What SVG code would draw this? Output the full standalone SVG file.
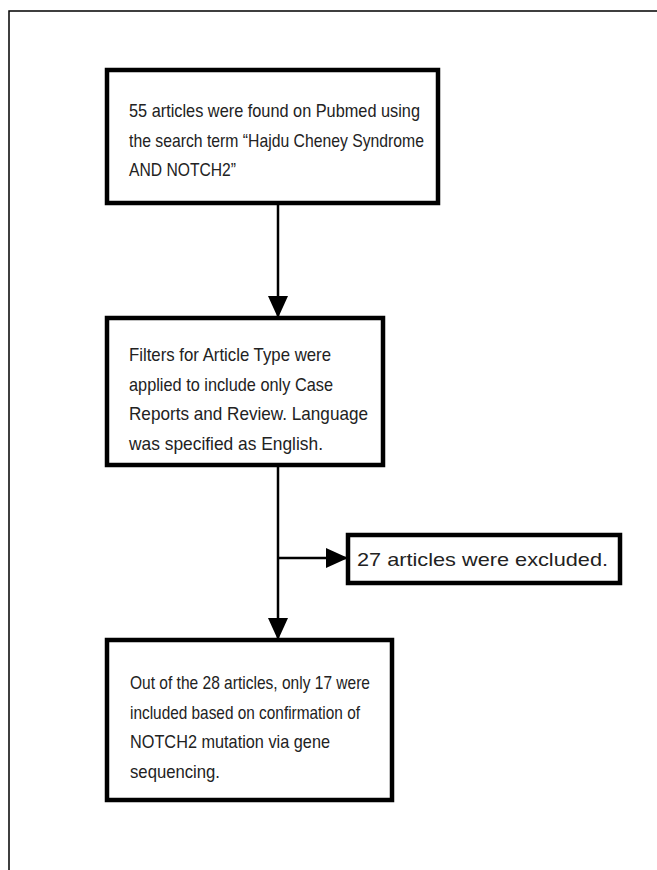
<svg xmlns="http://www.w3.org/2000/svg" width="657" height="870" viewBox="0 0 657 870">
<defs>
<style>
.frame{fill:none;stroke:#000;stroke-width:1.5}
.box{fill:#fff;stroke:#000;stroke-width:4.5}
.ln{fill:none;stroke:#000;stroke-width:2.5}
.t{font-family:"Liberation Sans",Arial,sans-serif;font-size:19px;fill:#222}
</style>
<marker id="ah2" viewBox="0 0 22 20" refX="22" refY="10" markerWidth="22" markerHeight="20" markerUnits="userSpaceOnUse" orient="auto">
<path d="M0,0 L22,10 L0,20 z" fill="#000"/>
</marker>
</defs>
<rect width="657" height="870" fill="#fff"/>
<rect class="frame" x="9" y="11" width="660" height="870"/>
<g id="connectors">
<line class="ln" x1="278" y1="203" x2="278" y2="318" marker-end="url(#ah2)"/>
<line class="ln" x1="278" y1="465" x2="278" y2="640" marker-end="url(#ah2)"/>
<line class="ln" x1="278" y1="558" x2="348" y2="558" marker-end="url(#ah2)"/>
</g>
<g id="node1">
<rect class="box" x="107" y="70" width="331" height="133"/>
<text class="t" x="129" y="117" textLength="291" lengthAdjust="spacingAndGlyphs">55 articles were found on Pubmed using</text>
<text class="t" x="129" y="147" textLength="295" lengthAdjust="spacingAndGlyphs">the search term “Hajdu Cheney Syndrome</text>
<text class="t" x="129" y="176" textLength="107" lengthAdjust="spacingAndGlyphs">AND NOTCH2”</text>
</g>
<g id="node2">
<rect class="box" x="107" y="318" width="276" height="147"/>
<text class="t" x="129" y="361" textLength="202" lengthAdjust="spacingAndGlyphs">Filters for Article Type were</text>
<text class="t" x="129" y="391" textLength="204" lengthAdjust="spacingAndGlyphs">applied to include only Case</text>
<text class="t" x="129" y="420" textLength="239" lengthAdjust="spacingAndGlyphs">Reports and Review. Language</text>
<text class="t" x="129" y="450" textLength="194" lengthAdjust="spacingAndGlyphs">was specified as English.</text>
</g>
<g id="node3">
<rect class="box" x="348" y="535" width="272" height="48"/>
<text class="t" x="357" y="566" textLength="251" lengthAdjust="spacingAndGlyphs">27 articles were excluded.</text>
</g>
<g id="node4">
<rect class="box" x="107" y="640" width="285" height="160"/>
<text class="t" x="130" y="689" textLength="240" lengthAdjust="spacingAndGlyphs">Out of the 28 articles, only 17 were</text>
<text class="t" x="130" y="719" textLength="230" lengthAdjust="spacingAndGlyphs">included based on confirmation of</text>
<text class="t" x="130" y="748" textLength="200" lengthAdjust="spacingAndGlyphs">NOTCH2 mutation via gene</text>
<text class="t" x="130" y="778" textLength="90" lengthAdjust="spacingAndGlyphs">sequencing.</text>
</g>
</svg>
